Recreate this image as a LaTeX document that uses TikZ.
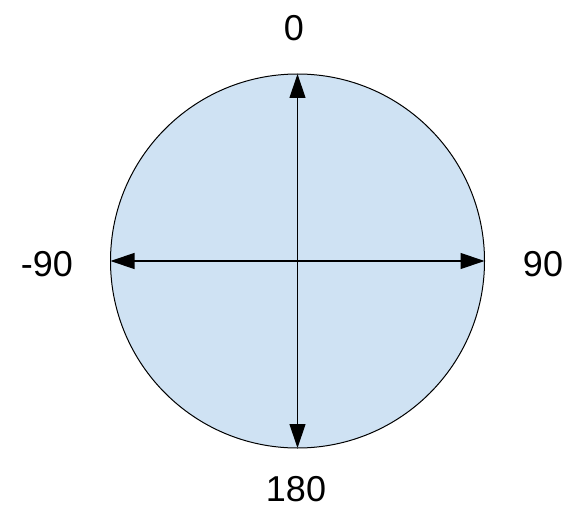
\documentclass[tikz,border=0pt]{standalone}
\usepackage{fontspec}
\setmainfont{Liberation Sans}
\usepackage{xcolor}
\definecolor{dialfill}{RGB}{207,226,243}
\usetikzlibrary{arrows.meta, positioning}

\begin{document}
\begin{tikzpicture}[x=1pt, y=1pt,
    dial/.style={circle, draw=black, line width=1pt, fill=dialfill,
                 minimum size=374pt, inner sep=0pt},
    arr/.style={{Triangle[length=24pt, width=16pt]}-{Triangle[length=24pt, width=16pt]},
                line width=1.2pt, color=black, shorten <=0.5pt, shorten >=0.5pt},
    lbl/.style={font=\fontsize{36}{40}\selectfont, inner sep=0pt}
]
    \useasboundingbox (0,0) rectangle (580,512);
    \node[dial] (dial) at (297.5,251) {};
    \draw[arr] (dial.north) -- (dial.south);
    \draw[arr] (dial.west)  -- (dial.east);
    \node[lbl] (top)   at (294,484) {0};
    \node[lbl] (left)  at (47,248)  {-90};
    \node[lbl] (right) at (543,248) {90};
    \node[lbl] (bot)   at (296,23)  {180};
\end{tikzpicture}
\end{document}
